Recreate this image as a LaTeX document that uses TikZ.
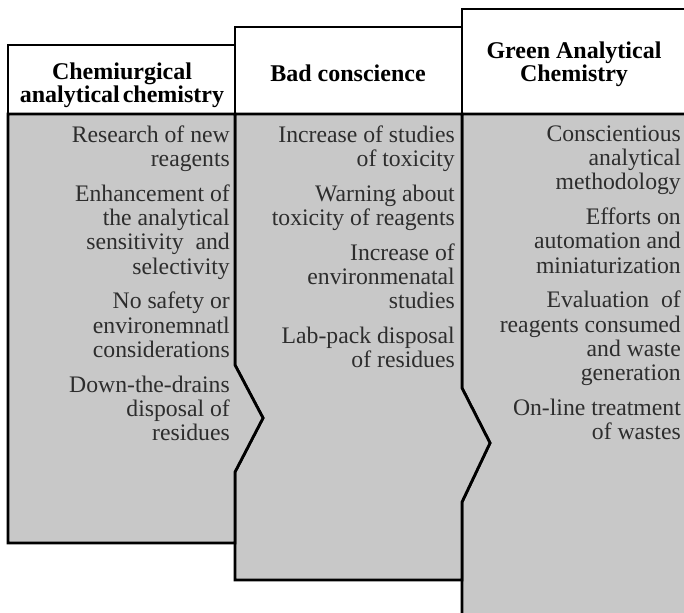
\documentclass[tikz,border=0pt]{standalone}
\usepackage{fontspec}
\setmainfont{Liberation Serif}
\definecolor{panelgray}{RGB}{200,200,200}
\definecolor{bodyink}{RGB}{45,45,45}

\begin{document}
\begin{tikzpicture}[x=1pt,y=-1pt,
  edge/.style={line width=2.8pt, draw=black, line join=miter},
  headtext/.style={font=\fontsize{24}{23}\selectfont\bfseries, align=center, inner sep=0pt},
  bodytxt/.style={font=\fontsize{23.7}{24.3}\selectfont, align=right, inner sep=0pt,
                  anchor=north east, text=bodyink}]
\useasboundingbox (0,0) rectangle (684,612);
\clip (0,0) rectangle (684,612);

% third column: open to the right and bottom
\filldraw[edge, fill=white] (462,9) rectangle (700,114);
\filldraw[edge, fill=panelgray] (462,114) -- (700,114) -- (700,630) -- (462,630)
  -- (462,502) -- (490,443) -- (462,388) -- cycle;

% second column
\filldraw[edge, fill=white] (235,27) rectangle (462,114);
\filldraw[edge, fill=panelgray] (235,114) -- (462,114) -- (462,388) -- (490,443)
  -- (462,502) -- (462,580) -- (235,580) -- (235,472) -- (263,418) -- (235,365) -- cycle;

% first column
\filldraw[edge, fill=white] (8,45) rectangle (235,114);
\filldraw[edge, fill=panelgray] (8,114) -- (235,114) -- (235,365) -- (263,418)
  -- (235,472) -- (235,543) -- (8,543) -- cycle;

% headings
\node[headtext] (h1) at (122,85) {Chemiurgical\\analytical\hspace{-3pt} chemistry};
\node[headtext] (h2) at (348,73) {Bad conscience};
\node[headtext] (h3) at (574,64) {Green Analytical\\Chemistry};

% column contents
\node[bodytxt] (b1) at (230,125.5) {Research of new\\reagents\\[10.4pt]
  Enhancement of\\the analytical\\sensitivity\ \ and\\selectivity\\[10.4pt]
  No safety or\\environemnatl\\considerations\\[10.4pt]
  Down-the-drains\\disposal of\\residues};
\node[bodytxt] (b2) at (455,125.5) {Increase of studies\\of toxicity\\[10.4pt]
  Warning\ about\\toxicity of reagents\\[10.4pt]
  Increase of\\environmenatal\\studies\\[10.4pt]
  Lab-pack disposal\\of residues};
\node[bodytxt] (b3) at (681,125.5) {Conscientious\\analytical\\methodology\\[10.4pt]
  Efforts on\\automation and\\miniaturization\\[10.4pt]
  Evaluation\ \ of\\reagents consumed\\and waste\\generation\\[10.4pt]
  On-line treatment\\of wastes};
\end{tikzpicture}
\end{document}
